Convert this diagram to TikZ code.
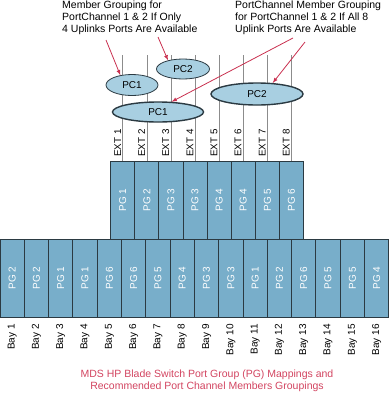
\documentclass[tikz,border=0pt]{standalone}
\usepackage{fontspec}
\usepackage{graphicx}
\setmainfont{Liberation Sans}
\usetikzlibrary{shapes.geometric}
\definecolor{pgblue}{HTML}{78AECA}
\definecolor{pcblue}{HTML}{A8CFE1}
\definecolor{edgedark}{HTML}{2B3A42}
\definecolor{arrred}{HTML}{C9304F}
\definecolor{capred}{HTML}{D24460}
\definecolor{extgray}{HTML}{8C8C8C}

\begin{document}
\begin{tikzpicture}[x=1pt, y=-1pt,
        pgbox/.style={draw=edgedark, line width=0.9pt, fill=pgblue, text=white, inner sep=0pt,
            minimum height=78pt, font=\fontsize{10}{12}\selectfont},
        extline/.style={draw=extgray, line width=0.7pt},
        extlabel/.style={rotate=90, anchor=south, inner sep=1.5pt, font=\fontsize{9.8}{12}\selectfont},
        baylabel/.style={rotate=90, anchor=east, inner sep=0pt, font=\fontsize{10}{12}\selectfont},
        pcsmall/.style={ellipse, draw=edgedark, line width=0.8pt, fill=pcblue, inner sep=0pt,
            font=\fontsize{10}{12}\selectfont},
        pclarge/.style={pcsmall, line width=1.4pt},
        note/.style={align=left, inner sep=0pt, anchor=north west, font=\fontsize{10.5}{12}\selectfont},
        pointer/.style={draw=arrred, line width=0.8pt, -latex}]
    \useasboundingbox (0,0) rectangle (390,394);

    % bays and their port groups
    \foreach \pg [count=\i] in {2,2,1,1,6,6,5,4,3,3,1,2,6,5,5,4} {
        \node[pgbox, minimum width=24.3pt] (b\i) at ({(\i-0.5)*24.3}, 278) {\rotatebox{90}{PG \pg}};
        \node[baylabel] (bay\i) at ({(\i-0.5)*24.3}, 324) {Bay \i};
    }

    % uplink ports
    \foreach \pg [count=\i] in {1,2,3,3,4,4,5,6} {
        \node[pgbox, minimum width=24.1pt] (t\i) at ({110.7+(\i-0.5)*24.1}, 200) {\rotatebox{90}{PG \pg}};
        \coordinate (u\i) at ({110.7+(\i-0.5)*24.1}, 55);
        \draw[extline] (u\i) -- (t\i.north);
        \node[extlabel] (ext\i) at ({110.7+(\i-0.5)*24.1}, 143) {EXT \i};
    }

    % port channels
    \node[pcsmall, minimum width=52pt, minimum height=21pt] (pcsa) at (132,85) {PC1};
    \node[pcsmall, minimum width=53pt, minimum height=20pt] (pcsb) at (183,69) {PC2};
    \node[pclarge, minimum width=91pt, minimum height=20pt] (pcla) at (158,112) {PC1};
    \node[pclarge, minimum width=92pt, minimum height=22pt] (pclb) at (257,94) {PC2};

    % notes
    \node[note] (noteA) at (62,1) {Member Grouping for\\PortChannel 1 \& 2 If Only\\4 Uplinks Ports Are Available};
    \node[note] (noteB) at (235,1) {PortChannel Member Grouping\\for PortChannel 1 \& 2 If All 8\\Uplink Ports Are Available};
    \coordinate (sa) at (106,40);
    \coordinate (sb) at (158,37);
    \coordinate (sc) at (293,38);
    \coordinate (sd) at (305,42);
    \draw[pointer] (sa) -- (pcsa.140);
    \draw[pointer] (sb) -- (pcsb.150);
    \draw[pointer] (sc) -- (pcla.37);
    \draw[pointer] (sd) -- (pclb.35);

    \node[align=center, text=capred, font=\fontsize{10.5}{12}\selectfont] (caption) at (207,381)
        {MDS HP Blade Switch Port Group (PG) Mappings and\\Recommended Port Channel Members Groupings};
\end{tikzpicture}
\end{document}
